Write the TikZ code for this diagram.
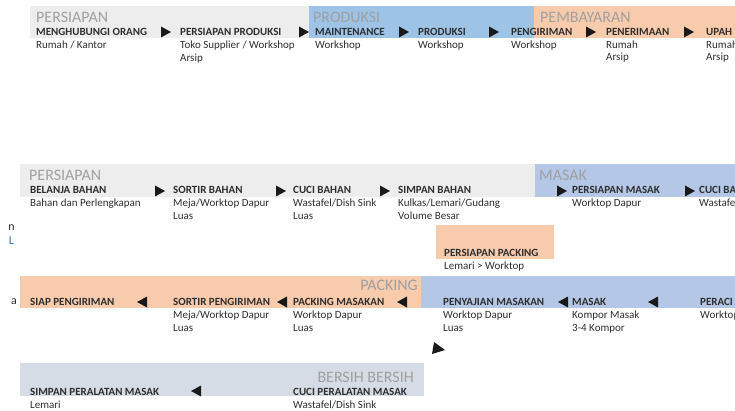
\documentclass[tikz,border=0pt]{standalone}
\usepackage{fontspec}
\setmainfont{Carlito}
\usetikzlibrary{positioning}
\definecolor{bandgray}{HTML}{EDEDED}
\definecolor{bandblue}{HTML}{9DC3E6}
\definecolor{bandblueb}{HTML}{B4C7E7}
\definecolor{bandorange}{HTML}{F8CBAD}
\definecolor{bandslate}{HTML}{D6DCE5}
\definecolor{headgray}{HTML}{A0A0A0}
\definecolor{itemtext}{HTML}{2E2E2E}
\definecolor{fragblue}{HTML}{2E75B6}

\begin{document}
\begin{tikzpicture}[x=1pt,y=-1pt,
    head/.style={anchor=west, inner sep=0, text=headgray, font=\fontsize{16}{16}\selectfont},
    item/.style={anchor=north west, inner sep=0, align=left, text=itemtext, font=\fontsize{11}{12.6}\selectfont},
    frag/.style={anchor=east, inner sep=0, text=itemtext, font=\fontsize{12}{12}\selectfont},
    rarr/.pic={\fill[black!90] (-5,-5.5) -- (5,0) -- (-5,5.5) -- cycle;},
    larr/.pic={\fill[black!90] (5,-5.5) -- (-5,0) -- (5,5.5) -- cycle;}]
    \useasboundingbox (0,0) rectangle (735,411);
    \clip (0,0) rectangle (735,411);

% baris 1
\fill[bandgray] (30,6) rectangle (309,38);
\fill[bandblue] (309,6) rectangle (534,38);
\fill[bandorange] (534,6) rectangle (735,38);
\node[head] (persiapanA) at (36,17) {PERSIAPAN};
\node[head] (produksiA) at (313,17) {PRODUKSI};
\node[head] (pembayaran) at (540,17) {PEMBAYARAN};

\node[item] (hubungi) at (36,28.4) {\textbf{MENGHUBUNGI ORANG}\\Rumah / Kantor};
\node[item] (siapprod) at (180,28.4) {\textbf{PERSIAPAN PRODUKSI}\\Toko Supplier / Workshop\\Arsip};
\node[item] (maint) at (315,28.4) {\textbf{MAINTENANCE}\\Workshop};
\node[item] (prod) at (418,28.4) {\textbf{PRODUKSI}\\Workshop};
\node[item] (kirim) at (511,28.4) {\textbf{PENGIRIMAN}\\Workshop};
\node[item] (terima) at (606,28.4) {\textbf{PENERIMAAN}\\Rumah\\Arsip};
\node[item] (upah) at (706,28.4) {\textbf{UPAH}\\Rumah\\Arsip};
\foreach \x in {166,304,404,494,591,689} \pic at (\x,32) {rarr};

% baris 2
\fill[bandgray] (20,164) rectangle (535,197);
\fill[bandblueb] (535,164) rectangle (735,197);
\node[head] (persiapanB) at (29,175) {PERSIAPAN};
\node[head] (masakA) at (539,175) {MASAK};

\node[item] (belanja) at (30,186.4) {\textbf{BELANJA BAHAN}\\Bahan dan Perlengkapan};
\node[item] (sortirbahan) at (173,186.4) {\textbf{SORTIR BAHAN}\\Meja/Worktop Dapur\\Luas};
\node[item] (cucibahan) at (293,186.4) {\textbf{CUCI BAHAN}\\Wastafel/Dish Sink\\Luas};
\node[item] (simpanbahan) at (398,186.4) {\textbf{SIMPAN BAHAN}\\Kulkas/Lemari/Gudang\\Volume Besar};
\node[item] (siapmasak) at (572,186.4) {\textbf{PERSIAPAN MASAK}\\Worktop Dapur};
\node[item] (cuciba) at (699,186.4) {\textbf{CUCI BA}\\Wastafel};
\foreach \x in {160,281,385,562,690} \pic at (\x,191) {rarr};

\fill[bandorange] (436,225) rectangle (554,259);
\node[item] (siappack) at (444,249.4) {\textbf{PERSIAPAN PACKING}\\Lemari > Worktop};

\node[frag] (fragn) at (15,228) {n};
\node[frag, text=fragblue] (fragl) at (14,241) {L};
\node[frag] (fraga) at (17,302) {a};

% baris 3
\fill[bandorange] (20,276) rectangle (421,308);
\fill[bandblueb] (421,276) rectangle (735,308);
\node[head, anchor=east] (packing) at (418,285) {PACKING};

\node[item] (siapkirim) at (30,298.4) {\textbf{SIAP PENGIRIMAN}};
\node[item] (sortirkirim) at (173,298.4) {\textbf{SORTIR PENGIRIMAN}\\Meja/Worktop Dapur\\Luas};
\node[item] (packmasak) at (293,298.4) {\textbf{PACKING MASAKAN}\\Worktop Dapur\\Luas};
\node[item] (saji) at (443,298.4) {\textbf{PENYAJIAN MASAKAN}\\Worktop Dapur\\Luas};
\node[item] (masakB) at (572,298.4) {\textbf{MASAK}\\Kompor Masak\\3-4 Kompor};
\node[item] (peraci) at (700,298.4) {\textbf{PERACI}\\Worktop};
\foreach \x in {142,282,402,563,653} \pic at (\x,302) {larr};

\fill[black!90] (434,342) -- (445,350) -- (432,354) -- cycle;

% baris 4
\fill[bandslate] (20,363) rectangle (424,396);
\node[head, anchor=east] (bersih) at (414,377) {BERSIH BERSIH};
\node[item] (simpanalat) at (30,388.4) {\textbf{SIMPAN PERALATAN MASAK}\\Lemari};
\node[item] (cucialat) at (293,388.4) {\textbf{CUCI PERALATAN MASAK}\\Wastafel/Dish Sink};
\pic at (196,391) {larr};

\end{tikzpicture}
\end{document}
